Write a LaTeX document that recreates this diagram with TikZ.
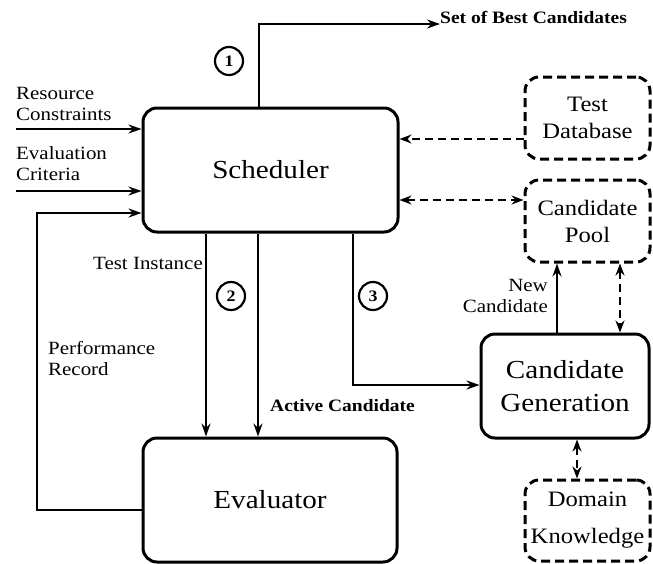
\documentclass[tikz,border=0pt]{standalone}
\usepackage{fontspec}
\setmainfont{Liberation Serif}[FakeStretch=1.12]
\usetikzlibrary{arrows.meta}
\tikzset{
  solidbox/.style={draw, line width=3pt, rounded corners=14pt, inner sep=0pt, align=center},
  dashbox/.style={draw, line width=3pt, rounded corners=14pt, inner sep=0pt, align=center, dash pattern=on 9pt off 5pt},
  arr/.style={line width=2.3pt, -{Stealth[length=13pt,width=9pt]}},
  darr/.style={line width=2.3pt, dash pattern=on 8pt off 5pt, {Stealth[length=12pt,width=9pt]}-{Stealth[length=12pt,width=9pt]}},
  darrone/.style={line width=2.3pt, dash pattern=on 8pt off 5pt, -{Stealth[length=12pt,width=9pt]}},
  lbl/.style={inner sep=0pt, font=\fontsize{18.7}{21}\selectfont},
  blbl/.style={inner sep=0pt, font=\bfseries\fontsize{17.4}{21}\selectfont},
  num/.style={draw, circle, line width=2.2pt, minimum size=28pt, inner sep=0pt, font=\bfseries\fontsize{16}{16}\selectfont},
  bigtxt/.style={font=\fontsize{26}{33}\selectfont},
  midtxt/.style={font=\fontsize{22}{27}\selectfont}
}
\begin{document}
\begin{tikzpicture}[x=1pt,y=-1pt]
\useasboundingbox (0,0) rectangle (653,563);
% boxes
\node[solidbox, bigtxt, minimum width=255pt, minimum height=124pt] (sched) at (270.5,170) {Scheduler};
\node[solidbox, bigtxt, minimum width=254pt, minimum height=124pt] (eval) at (270,500) {Evaluator};
\node[solidbox, bigtxt, minimum width=168pt, minimum height=104pt] (cgen) at (565,386) {Candidate\\Generation};
\node[dashbox, midtxt, minimum width=125pt, minimum height=82pt] (tdb) at (587.5,118) {Test\\Database};
\node[dashbox, midtxt, minimum width=125pt, minimum height=82pt] (cpool) at (587.5,221) {Candidate\\Pool};
\node[dashbox, midtxt, minimum width=125pt, minimum height=81pt, font=\fontsize{22}{37}\selectfont] (dk) at (587.5,520.5) {Domain\\Knowledge};
% coordinates
\coordinate (sbcend) at (440,24);
\coordinate (c1x) at (259,0);
\coordinate (rcy) at (16,129);
\coordinate (ecy) at (16,191);
\coordinate (prA) at (37,510);
\coordinate (prB) at (37,213);
\coordinate (tix) at (206,0);
\coordinate (acx) at (258,0);
\coordinate (c3) at (353,385);
\coordinate (tdby) at (0,139);
\coordinate (cpy) at (0,200);
\coordinate (ncx) at (557,0);
\coordinate (pgx) at (620,0);
\coordinate (gdx) at (577,0);
% labels
\node[blbl, anchor=south west] (sbc) at (sbcend) {Set of Best Candidates};
\node[lbl, anchor=south west, align=left] (rc) at (16,121) {Resource\\Constraints};
\node[lbl, anchor=south west, align=left] (ec) at (16,181) {Evaluation\\Criteria};
\node[lbl, anchor=south west, align=left] (pr) at (48,376) {Performance\\Record};
\node[lbl, anchor=south east] (ti) at (203,270) {Test Instance};
\node[blbl, anchor=south west] (ac) at (270,412) {Active Candidate};
\node[lbl, anchor=south east, align=right] (nc) at (548,313) {New\\Candidate};
% numbers
\node[num] (n1) at (229,61) {1};
\node[num] (n2) at (231,296) {2};
\node[num] (n3) at (373,296) {3};
% connectors
\draw[arr] (sched.north -| c1x) |- (sbcend);
\draw[arr] (rcy) -- (rcy -| sched.west);
\draw[arr] (ecy) -- (ecy -| sched.west);
\draw[arr] (prA -| eval.west) -- (prA) -- (prB) -- (prB -| sched.west);
\draw[arr] (sched.south -| tix) -- (eval.north -| tix);
\draw[arr] (sched.south -| acx) -- (eval.north -| acx);
\draw[arr] (sched.south -| c3) |- (c3 -| cgen.west);
\draw[darrone] (tdb.west |- tdby) -- (sched.east |- tdby);
\draw[darr] (sched.east |- cpy) -- (cpool.west |- cpy);
\draw[arr] (cgen.north -| ncx) -- (cpool.south -| ncx);
\draw[darr] (cpool.south -| pgx) -- (cgen.north -| pgx);
\draw[darr] (cgen.south -| gdx) -- (dk.north -| gdx);
\end{tikzpicture}
\end{document}
